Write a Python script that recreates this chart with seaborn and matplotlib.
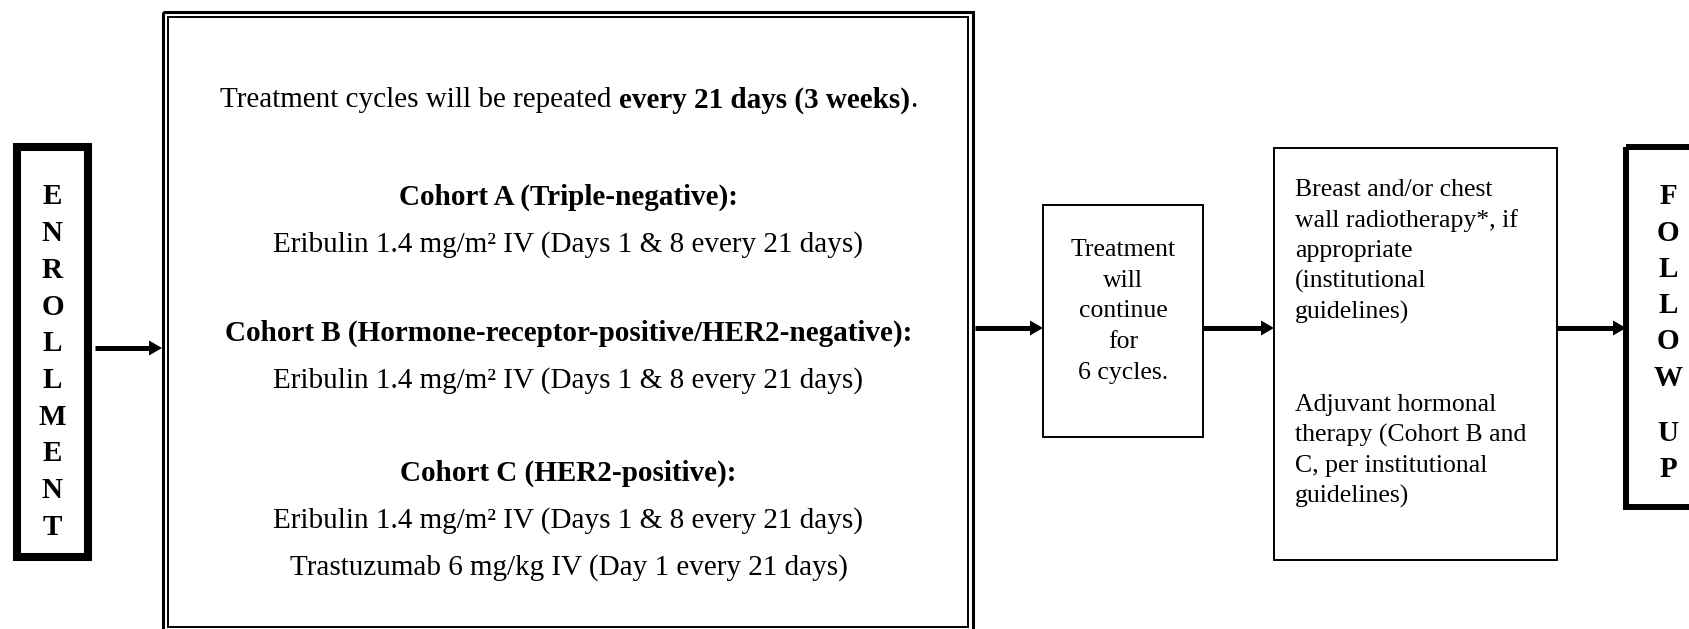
import matplotlib.pyplot as plt
import matplotlib.patches as mpatches
import seaborn as sns

sns.set_theme(style="white")
plt.rcParams['font.family'] = ['Liberation Serif', 'DejaVu Serif']
plt.rcParams['text.color'] = 'black'

# text content of the flow diagram
enroll_word = "ENROLLMENT"
follow_words = ["FOLLOW", "UP"]
intro_regular = "Treatment cycles will be repeated"
intro_bold = "every 21 days (3 weeks)"
intro_end = "."
cohort_titles = ["Cohort A (Triple-negative):",
                 "Cohort B (Hormone-receptor-positive/HER2-negative):",
                 "Cohort C (HER2-positive):"]
cohort_drugs = [["Eribulin 1.4 mg/m² IV (Days 1 & 8 every 21 days)"],
                ["Eribulin 1.4 mg/m² IV (Days 1 & 8 every 21 days)"],
                ["Eribulin 1.4 mg/m² IV (Days 1 & 8 every 21 days)",
                 "Trastuzumab 6 mg/kg IV (Day 1 every 21 days)"]]
duration_lines = ["Treatment", "will", "continue", "for", "6 cycles."]
radio_lines = ["Breast and/or chest", "wall radiotherapy*, if", "appropriate",
               "(institutional", "guidelines)"]
hormonal_lines = ["Adjuvant hormonal", "therapy (Cohort B and",
                  "C, per institutional", "guidelines)"]

W, H = 1690, 629
fig = plt.figure(figsize=(W / 100, H / 100), dpi=100)
ax = fig.add_axes([0, 0, 1, 1])
ax.set_xlim(0, W)
ax.set_ylim(H, 0)
ax.axis('off')


def box(x0, y0, x1, y1, lw):
    ax.add_patch(mpatches.Rectangle((x0, y0), x1 - x0, y1 - y0, fill=False,
                                    edgecolor='black', lw=lw, joinstyle='miter'))


def arrow(x0, x1, y):
    head = 13
    ax.plot([x0, x1 - head + 1], [y, y], color='black', lw=3.6, solid_capstyle='butt')
    ax.add_patch(mpatches.Polygon([[x1 - head, y - 7.5], [x1, y], [x1 - head, y + 7.5]],
                                  closed=True, facecolor='black', edgecolor='none'))


# enrollment box
box(17, 147, 88, 557, 5.8)
for i, ch in enumerate(enroll_word):
    ax.text(52.5, 197 + i * 36.7, ch, fontsize=21, fontweight='bold',
            ha='center', va='center')

# main treatment box (double border)
box(163.5, 11.5, 973.5, 640, 2.2)
box(168.5, 17, 968.5, 627, 1.4)

r = fig.canvas.get_renderer()
cx = (163.5 + 973.5) / 2
parts = [(intro_regular, 'normal'), (intro_bold, 'bold'), (intro_end, 'normal')]
txts = [ax.text(0, 100, s, fontsize=21, fontweight=w, ha='left', va='center') for s, w in parts]
widths = [t.get_window_extent(r).width for t in txts]
gap = 0.25 * 21 * 100 / 72
total = sum(widths) + gap
x = cx - total / 2
txts[0].set_x(x)
txts[1].set_x(x + widths[0] + gap)
txts[2].set_x(x + widths[0] + gap + widths[1])

title_y = [197, 333, 473]
for title, drugs, ty in zip(cohort_titles, cohort_drugs, title_y):
    ax.text(cx, ty, title, fontsize=21, fontweight='bold', ha='center', va='center')
    for j, d in enumerate(drugs):
        ax.text(cx, ty + 48 + j * 47, d, fontsize=21, ha='center', va='center')

arrow(95, 162, 348)

# duration box
box(1043, 205, 1203, 437, 1.4)
for i, line in enumerate(duration_lines):
    ax.text(1123, 250 + i * 30.7, line, fontsize=18.5, ha='center', va='center')

arrow(975, 1043, 328)

# radiotherapy / hormonal box
box(1274, 148, 1557, 560, 1.4)
for i, line in enumerate(radio_lines):
    ax.text(1295, 190 + i * 30.5, line, fontsize=18.5, ha='left', va='center')
for i, line in enumerate(hormonal_lines):
    ax.text(1295, 405 + i * 30.5, line, fontsize=18.5, ha='left', va='center')

arrow(1203, 1274, 328)

# follow up box (right side runs off the page)
box(1626, 147, 1712, 507, 4.3)
k = 0
for wi, word in enumerate(follow_words):
    for ch in word:
        ax.text(1668, 197 + k * 36.2 + wi * 19, ch, fontsize=21, fontweight='bold',
                ha='center', va='center')
        k += 1

arrow(1557, 1626, 328)

fig.savefig("out.png", dpi=100, facecolor='white')
